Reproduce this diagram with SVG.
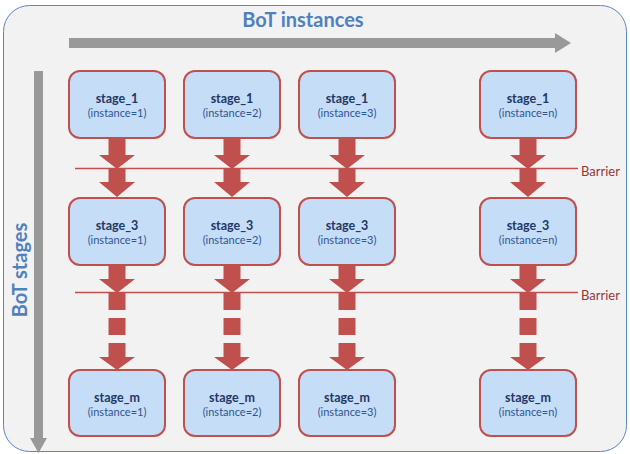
<svg xmlns="http://www.w3.org/2000/svg" width="630" height="454" viewBox="0 0 630 454">
<style>
.node rect{fill:#c6ddf8;stroke:#c0504d;stroke-width:2}
.t1{font-family:Lato,"Open Sans",sans-serif;font-weight:bold;font-size:12.5px;fill:#1f3864;text-anchor:middle}
.t2{font-family:Lato,"Open Sans",sans-serif;font-size:11px;fill:#2e5590;text-anchor:middle}
.ar{fill:#c0504d}
.bar{stroke:#c0504d;stroke-width:1.5;fill:none}
.bl{font-family:Lato,"Open Sans",sans-serif;font-size:13px;fill:#953735}
.ax{font-family:Lato,"Open Sans",sans-serif;font-weight:bold;font-size:20px;fill:#4f81bd;text-anchor:middle}
</style>
<defs>
<path id="a1" d="M-8.5,0 H8.5 V16 H18 L0,30 L-18,16 H-8.5 Z"/>
<path id="a2" d="M-8.5,0 H8.5 V14 H18 L0,29 L-18,14 H-8.5 Z"/>
<path id="a3" d="M-8.5,0 H8.5 V15 H18 L0,29 L-18,15 H-8.5 Z"/>
<path id="a4" d="M-8.5,0 H8.5 V18 H-8.5 Z M-8.5,26 H8.5 V43 H-8.5 Z M-8.5,51 H8.5 V65 H18 L0,78 L-18,65 H-8.5 Z"/>
</defs>
<rect x="3.5" y="5.5" width="623" height="446" rx="26" fill="#f2f2f2" stroke="#5b86c2" stroke-width="1"/>
<g id="axis-instances">
<text class="ax" x="303" y="27">BoT instances</text>
<path d="M69,38 H555 V33 L571,43 L555,53 V48 H69 Z" fill="#999999"/>
</g>
<g id="axis-stages">
<text class="ax" transform="translate(27,270) rotate(-90)">BoT stages</text>
<path d="M34,71 H43 V438 H47 L38.5,453 L30,438 H34 Z" fill="#999999"/>
</g>
<g id="connectors">
<g transform="translate(117,139)"><use href="#a1" class="ar"/></g>
<g transform="translate(232,139)"><use href="#a1" class="ar"/></g>
<g transform="translate(347,139)"><use href="#a1" class="ar"/></g>
<g transform="translate(528,139)"><use href="#a1" class="ar"/></g>
<g transform="translate(117,168)"><use href="#a2" class="ar"/></g>
<g transform="translate(232,168)"><use href="#a2" class="ar"/></g>
<g transform="translate(347,168)"><use href="#a2" class="ar"/></g>
<g transform="translate(528,168)"><use href="#a2" class="ar"/></g>
<g transform="translate(117,264)"><use href="#a3" class="ar"/></g>
<g transform="translate(232,264)"><use href="#a3" class="ar"/></g>
<g transform="translate(347,264)"><use href="#a3" class="ar"/></g>
<g transform="translate(528,264)"><use href="#a3" class="ar"/></g>
<g transform="translate(117,292)"><use href="#a4" class="ar"/></g>
<g transform="translate(232,292)"><use href="#a4" class="ar"/></g>
<g transform="translate(347,292)"><use href="#a4" class="ar"/></g>
<g transform="translate(528,292)"><use href="#a4" class="ar"/></g>
</g>
<g id="barrier1">
<line class="bar" x1="75" y1="168.5" x2="578" y2="168.5"/>
<text class="bl" x="581" y="176">Barrier</text>
</g>
<g id="barrier2">
<line class="bar" x1="75" y1="292.5" x2="578" y2="292.5"/>
<text class="bl" x="581" y="300">Barrier</text>
</g>
<g id="n-1-1" class="node"><rect x="69" y="71" width="96" height="67" rx="11"/><text class="t1" x="117" y="103">stage_1</text><text class="t2" x="117" y="117">(instance=1)</text></g>
<g id="n-1-2" class="node"><rect x="184" y="71" width="96" height="67" rx="11"/><text class="t1" x="232" y="103">stage_1</text><text class="t2" x="232" y="117">(instance=2)</text></g>
<g id="n-1-3" class="node"><rect x="299" y="71" width="96" height="67" rx="11"/><text class="t1" x="347" y="103">stage_1</text><text class="t2" x="347" y="117">(instance=3)</text></g>
<g id="n-1-n" class="node"><rect x="480" y="71" width="96" height="67" rx="11"/><text class="t1" x="528" y="103">stage_1</text><text class="t2" x="528" y="117">(instance=n)</text></g>
<g id="n-3-1" class="node"><rect x="69" y="198" width="96" height="67" rx="11"/><text class="t1" x="117" y="230">stage_3</text><text class="t2" x="117" y="244">(instance=1)</text></g>
<g id="n-3-2" class="node"><rect x="184" y="198" width="96" height="67" rx="11"/><text class="t1" x="232" y="230">stage_3</text><text class="t2" x="232" y="244">(instance=2)</text></g>
<g id="n-3-3" class="node"><rect x="299" y="198" width="96" height="67" rx="11"/><text class="t1" x="347" y="230">stage_3</text><text class="t2" x="347" y="244">(instance=3)</text></g>
<g id="n-3-n" class="node"><rect x="480" y="198" width="96" height="67" rx="11"/><text class="t1" x="528" y="230">stage_3</text><text class="t2" x="528" y="244">(instance=n)</text></g>
<g id="n-m-1" class="node"><rect x="69" y="370" width="96" height="66" rx="11"/><text class="t1" x="117" y="402">stage_m</text><text class="t2" x="117" y="416">(instance=1)</text></g>
<g id="n-m-2" class="node"><rect x="184" y="370" width="96" height="66" rx="11"/><text class="t1" x="232" y="402">stage_m</text><text class="t2" x="232" y="416">(instance=2)</text></g>
<g id="n-m-3" class="node"><rect x="299" y="370" width="96" height="66" rx="11"/><text class="t1" x="347" y="402">stage_m</text><text class="t2" x="347" y="416">(instance=3)</text></g>
<g id="n-m-n" class="node"><rect x="480" y="370" width="96" height="66" rx="11"/><text class="t1" x="528" y="402">stage_m</text><text class="t2" x="528" y="416">(instance=n)</text></g>
</svg>
